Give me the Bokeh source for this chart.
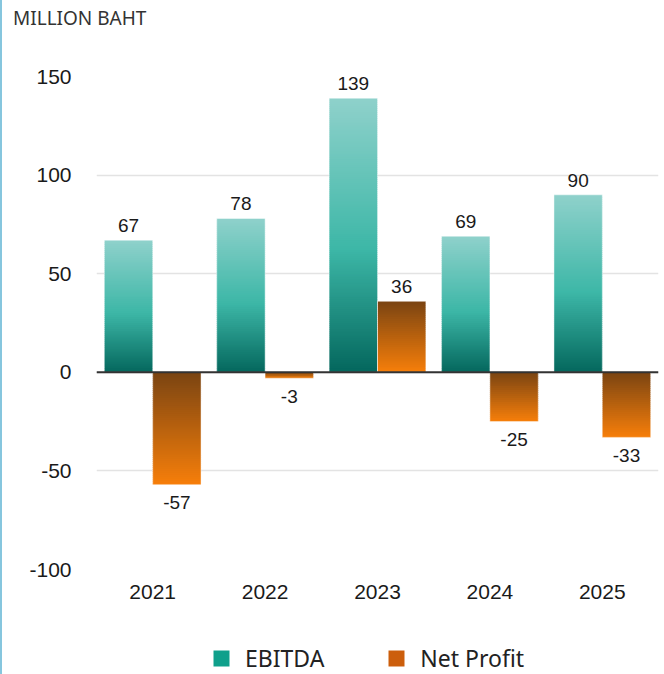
from bokeh.plotting import figure
from bokeh.layouts import column
from bokeh.models import (ColumnDataSource, Span, Legend, LegendItem, Div,
                          FactorRange, Range1d, FixedTicker)
from bokeh.transform import dodge
from bokeh.core.properties import value
from bokeh.embed import file_html
from bokeh.resources import INLINE

# ---- data ----
years = ["2021", "2022", "2023", "2024", "2025"]
ebitda = [67, 78, 139, 69, 90]
net_profit = [-57, -3, 36, -25, -33]
series_names = ["EBITDA", "Net Profit"]
unit_label = "MILLION BAHT"
y_ticks = [-100, -50, 0, 50, 100, 150]
y_tick_labels = ["-100", "-50", "0", "50", "100", "150"]

# ---- styles ----
EBITDA_STOPS = [(0.0, "#8fd1cb"), (0.55, "#3db7a7"), (1.0, "#04675d")]
NET_STOPS = [(0.0, "#7a4412"), (1.0, "#f77f0a")]
SEG_UNIT = 1.0
BAR_W = 0.43
OFF = 0.215
NUM_FONT = "Liberation Sans"
TXT_FONT = "Noto Sans"
W = 662


def hex2rgb(h):
    h = h.lstrip("#")
    return tuple(int(h[i:i + 2], 16) for i in (0, 2, 4))


def color_at(stops, t):
    for (t0, c0), (t1, c1) in zip(stops[:-1], stops[1:]):
        if t <= t1:
            f = 0 if t1 == t0 else (t - t0) / (t1 - t0)
            a, b = hex2rgb(c0), hex2rgb(c1)
            return "#%02x%02x%02x" % tuple(round(a[k] + (b[k] - a[k]) * f) for k in range(3))
    return stops[-1][1]


def gradient_source(vals, stops):
    xs, bots, tops, cols = [], [], [], []
    for yr, v in zip(years, vals):
        lo, hi = min(0, v), max(0, v)
        n = max(3, int(round((hi - lo) / SEG_UNIT)))
        step = (hi - lo) / n
        for i in range(n):
            top = hi - step * i
            bot = hi - step * (i + 1)
            if i < n - 1:
                bot -= step * 0.5
            xs.append(yr)
            tops.append(top)
            bots.append(bot)
            cols.append(color_at(stops, (i + 0.5) / n))
    return ColumnDataSource(dict(x=xs, top=tops, bottom=bots, color=cols))


# ---- unit label ----
title_div = Div(
    text=('<div style="padding:7px 0 0 11px; font-family:\'Noto Sans\'; font-size:19px; '
          'line-height:22px; color:#333333; white-space:nowrap;">%s</div>' % unit_label),
    width=W, height=40, margin=0)

# ---- main chart ----
p = figure(x_range=FactorRange(*years), y_range=Range1d(-100, 150),
           width=W, height=576, output_backend="svg", toolbar_location=None,
           min_border_left=94, min_border_right=6, min_border_top=36,
           min_border_bottom=47, margin=0)
p.outline_line_color = None

for ax in (p.xaxis, p.yaxis):
    ax.axis_line_color = None
    ax.major_tick_line_color = None
    ax.minor_tick_line_color = None
    ax.major_tick_out = 0
    ax.major_tick_in = 0
    ax.minor_tick_out = 0
    ax.major_label_text_font = NUM_FONT
    ax.major_label_text_font_size = "21px"
    ax.major_label_text_color = "#1a1a1a"
p.yaxis.ticker = FixedTicker(ticks=y_ticks)
p.yaxis.major_label_overrides = {t: s for t, s in zip(y_ticks, y_tick_labels)}
p.yaxis.major_label_standoff = 25
p.xaxis.major_label_standoff = 15
p.xgrid.grid_line_color = None
p.ygrid.grid_line_color = "#e3e3e3"
p.ygrid.grid_line_width = 1.5

# gradient bars
src_e = gradient_source(ebitda, EBITDA_STOPS)
src_n = gradient_source(net_profit, NET_STOPS)
p.vbar(x=dodge("x", -OFF, range=p.x_range), width=BAR_W, top="top", bottom="bottom",
       source=src_e, fill_color="color", line_color=None)
p.vbar(x=dodge("x", OFF, range=p.x_range), width=BAR_W, top="top", bottom="bottom",
       source=src_n, fill_color="color", line_color=None)

# bar outlines
out_src = ColumnDataSource(dict(year=years, e=ebitda, n=net_profit))
p.vbar(x=dodge("year", -OFF, range=p.x_range), width=BAR_W, top="e", bottom=0,
       source=out_src, fill_color=None, line_color="white", line_alpha=0.45, line_width=1)
p.vbar(x=dodge("year", OFF, range=p.x_range), width=BAR_W, top="n", bottom=0,
       source=out_src, fill_color=None, line_color="white", line_alpha=0.45, line_width=1)

# zero line
p.add_layout(Span(location=0, dimension="width", line_color="#333333", line_width=2))


# value labels
def add_labels(vals, off):
    pos = [(y, v) for y, v in zip(years, vals) if v >= 0]
    neg = [(y, v) for y, v in zip(years, vals) if v < 0]
    for items, yoff in ((pos, -14.5), (neg, 18)):
        if not items:
            continue
        s = ColumnDataSource(dict(x=[a for a, _ in items], y=[b for _, b in items],
                                  t=[str(b) for _, b in items]))
        p.text(x=dodge("x", off, range=p.x_range), y="y", text="t", source=s,
               text_align="center", text_baseline="alphabetic", y_offset=yoff,
               text_font=value(NUM_FONT), text_font_size="19px", text_color="#1a1a1a")


add_labels(ebitda, -OFF)
add_labels(net_profit, OFF)

# ---- legend strip ----
lf = figure(width=W, height=58, x_range=Range1d(0, 1), y_range=Range1d(0, 1),
            output_backend="svg", toolbar_location=None, x_axis_type=None,
            y_axis_type=None, min_border=0, margin=0)
lf.outline_line_color = None
lf.grid.grid_line_color = None
lf.border_fill_color = "white"
lf.background_fill_color = "white"
hidden = ColumnDataSource(dict(x=[0.5], top=[0.0]))  # zero-height, not visible
r1 = lf.vbar(x="x", top="top", bottom=0, width=0.0, source=hidden,
             fill_color="#0fa08b", line_color=None)
r2 = lf.vbar(x="x", top="top", bottom=0, width=0.0, source=hidden,
             fill_color="#cc5e0c", line_color=None)
legend = Legend(items=[LegendItem(label=series_names[0], renderers=[r1]),
                       LegendItem(label=series_names[1], renderers=[r2])],
                orientation="horizontal", location=(115, 0),
                padding=0, margin=0, spacing=62, label_standoff=14,
                glyph_width=20, glyph_height=20, label_height=20,
                border_line_color=None, background_fill_alpha=0,
                label_text_font=TXT_FONT, label_text_font_size="23px",
                label_text_color="#222222")
lf.add_layout(legend)

layout = column(title_div, p, lf, spacing=0,
                styles={"border-left": "2px solid #86c6de"})

open("out.html", "w").write(file_html(layout, INLINE))
